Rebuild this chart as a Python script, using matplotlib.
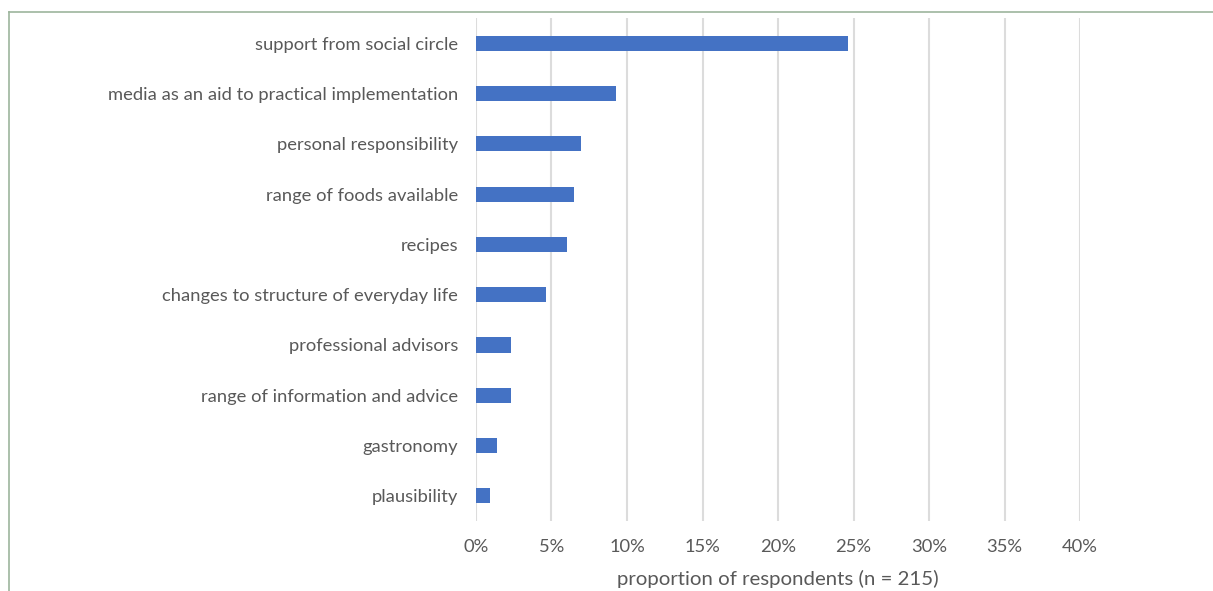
import numpy as np
import matplotlib.pyplot as plt
from matplotlib.lines import Line2D
from matplotlib.ticker import PercentFormatter

plt.rcParams['font.family'] = ['Lato', 'DejaVu Sans']

# categories, top to bottom
categorias = ['support from social circle',
              'media as an aid to practical implementation',
              'personal responsibility',
              'range of foods available',
              'recipes',
              'changes to structure of everyday life',
              'professional advisors',
              'range of information and advice',
              'gastronomy',
              'plausibility']
# respondents (n = 215)
n = 215
contagens = [53, 20, 15, 14, 13, 10, 5, 5, 3, 2]
proporcao = np.array(contagens) / n

cinza = '#595959'

fig = plt.figure(figsize=(12.13, 5.91), dpi=100)
ax = fig.add_axes([0.3924, 0.1184, 0.498, 0.8511])

y = np.arange(len(categorias))
ax.barh(y, proporcao, height=0.3, color='#4472c4', zorder=3)
ax.set_yticks(y)
ax.set_yticklabels(categorias)
ax.invert_yaxis()
ax.set_ylim(len(categorias) - 0.5, -0.5)

ax.set_xlim(0, 0.40)
ax.set_xticks(np.arange(0, 0.41, 0.05))
ax.xaxis.set_major_formatter(PercentFormatter(1.0, decimals=0))
ax.grid(axis='x', color='#dcdcdc', linewidth=1.5, zorder=0)

for s in ax.spines.values():
    s.set_visible(False)
ax.tick_params(axis='both', length=0, colors=cinza, labelsize=13.2)
ax.tick_params(axis='y', pad=13)
ax.tick_params(axis='x', pad=13)
ax.set_xlabel('proportion of respondents (n = 215)', fontsize=14.7, color=cinza, labelpad=11)

# moldura
cor_moldura = '#9db59d'
fig.add_artist(Line2D([9/1213, 9/1213], [0, 1 - 12/591], color=cor_moldura, lw=1.2, transform=fig.transFigure))
fig.add_artist(Line2D([9/1213, 1], [1 - 12/591, 1 - 12/591], color=cor_moldura, lw=1.2, transform=fig.transFigure))

fig.savefig('out.png', dpi=100)
